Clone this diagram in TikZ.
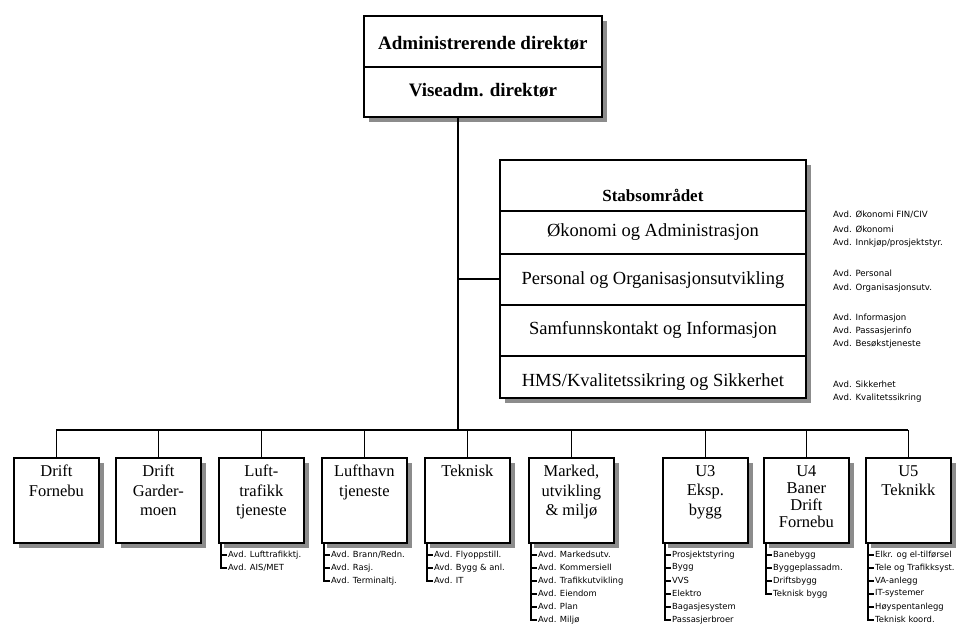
\documentclass[tikz,border=0pt]{standalone}
\usepackage{fontspec}
\setmainfont{Liberation Serif}
\newfontfamily\listfont{DejaVu Sans}
\usetikzlibrary{calc}

\tikzset{
  shadowed/.style={preaction={fill=black!45, draw=none,
      transform canvas={xshift=5.5pt, yshift=-5.5pt}}},
  frame/.style={draw, line width=1.8pt, fill=white, shadowed,
      anchor=north west, inner sep=0pt},
  unit/.style={frame, minimum width=85pt, minimum height=85pt},
  unitname/.style={anchor=north, align=center, inner sep=0pt,
      font=\fontsize{16.5}{19.5}\selectfont},
  headtext/.style={inner sep=0pt, font=\bfseries\fontsize{19}{22}\selectfont},
  rowtext/.style={inner sep=0pt, font=\fontsize{18.5}{22}\selectfont},
  divider/.style={line width=1.4pt},
  wire/.style={line width=1.6pt},
  listwire/.style={line width=1.4pt},
  item/.style={anchor=west, inner sep=1pt,
      font=\listfont\fontsize{8.4}{9}\selectfont},
  staffitem/.style={anchor=west, inner sep=0pt,
      font=\listfont\fontsize{8.6}{9}\selectfont},
}

\begin{document}
\begin{tikzpicture}[x=1pt, y=-1pt]
\useasboundingbox (0,0) rectangle (969,627);

% --- reference point for the horizontal bus
\coordinate (busy) at (0,430);

% --- executive box
\node[frame, minimum width=238pt, minimum height=101pt] (top) at (363,15) {};
\draw[divider] ($(top.north west)+(0,52)$) -- ($(top.north east)+(0,52)$);
\node[headtext] (adm) at ($(top.north)+(0,28)$) {Administrerende direktør};
\node[headtext] (vise) at ($(top.north)+(0,75)$) {Viseadm. direktør};

% --- staff area box
\node[frame, minimum width=306pt, minimum height=238pt] (stab) at (499,159) {};
\foreach \d in {52,95,146,197}
  \draw[divider] ($(stab.north west)+(0,\d)$) -- ($(stab.north east)+(0,\d)$);
\node[headtext, font=\bfseries\fontsize{17}{20}\selectfont] (stabhead)
  at ($(stab.north)+(0,36)$) {Stabsområdet};
\node[rowtext] (row1) at ($(stab.north)+(0,73)$) {Økonomi og Administrasjon};
\node[rowtext] (row2) at ($(stab.north)+(0,121)$) {Personal og Organisasjonsutvikling};
\node[rowtext] (row3) at ($(stab.north)+(0,171)$) {Samfunnskontakt og Informasjon};
\node[rowtext] (row4) at ($(stab.north)+(0,223)$) {HMS/Kvalitetssikring og Sikkerhet};

% --- departments of the staff area
\node[staffitem] (s1) at (833,215) {Avd. Økonomi FIN/CIV};
\node[staffitem] (s2) at (833,229) {Avd. Økonomi};
\node[staffitem] (s3) at (833,243) {Avd. Innkjøp/prosjektstyr.};
\node[staffitem] (s4) at (833,273) {Avd. Personal};
\node[staffitem] (s5) at (833,288) {Avd. Organisasjonsutv.};
\node[staffitem] (s6) at (833,318) {Avd. Informasjon};
\node[staffitem] (s7) at (833,331) {Avd. Passasjerinfo};
\node[staffitem] (s8) at (833,344) {Avd. Besøkstjeneste};
\node[staffitem] (s9) at (833,384) {Avd. Sikkerhet};
\node[staffitem] (s10) at (833,398) {Avd. Kvalitetssikring};

% --- line units
\foreach \i/\x in {1/13,2/115,3/218,4/321,5/424,6/528,7/662,8/763,9/865}
  \node[unit] (c\i) at (\x,457) {};

% --- trunk, bus and stubs
\coordinate (t0) at ($(top.south)+(-25,0)$);
\draw[wire] (t0) -- (t0 |- busy);
\draw[wire] (t0 |- stab.west) -- (stab.west);
\draw[wire] (c1.north |- busy) -- (c9.north |- busy);
\foreach \i in {1,...,9}
  \draw[wire] (c\i.north |- busy) -- (c\i.north);

% --- unit names
\node[unitname] (n1) at ($(c1.north)+(0,8)$) {Drift\\Fornebu};
\node[unitname] (n2) at ($(c2.north)+(0,8)$) {Drift\\Garder-\\moen};
\node[unitname] (n3) at ($(c3.north)+(0,8)$) {Luft-\\trafikk\\tjeneste};
\node[unitname] (n4) at ($(c4.north)+(0,8)$) {Lufthavn\\tjeneste};
\node[unitname] (n5) at ($(c5.north)+(0,8)$) {Teknisk};
\node[unitname] (n6) at ($(c6.north)+(0,8)$) {Marked,\\utvikling\\\& miljø};
\node[unitname] (n7) at ($(c7.north)+(0,8)$) {U3\\Eksp.\\bygg};
\node[unitname, font=\fontsize{16.5}{17}\selectfont] (n8)
  at ($(c8.north)+(0,8)$) {U4\\Baner\\Drift\\Fornebu};
\node[unitname] (n9) at ($(c9.north)+(0,8)$) {U5\\Teknikk};

% --- department lists below the units
\foreach \t [count=\k] in {Avd. Lufttrafikktj., Avd. AIS/MET} {
  \node[item] (c3i\k) at ($(c3.south west)+(9,11+13*\k-13)$) {\t};
  \draw[listwire] ([xshift=3pt]c3.south west) |- (c3i\k.west);
}
\foreach \t [count=\k] in {Avd. Brann/Redn., Avd. Rasj., Avd. Terminaltj.} {
  \node[item] (c4i\k) at ($(c4.south west)+(9,11+13*\k-13)$) {\t};
  \draw[listwire] ([xshift=3pt]c4.south west) |- (c4i\k.west);
}
\foreach \t [count=\k] in {Avd. Flyoppstill., Avd. Bygg \& anl., Avd. IT} {
  \node[item] (c5i\k) at ($(c5.south west)+(9,11+13*\k-13)$) {\t};
  \draw[listwire] ([xshift=3pt]c5.south west) |- (c5i\k.west);
}
\foreach \t [count=\k] in {Avd. Markedsutv., Avd. Kommersiell, Avd. Trafikkutvikling,
    Avd. Eiendom, Avd. Plan, Avd. Miljø} {
  \node[item] (c6i\k) at ($(c6.south west)+(9,11+13*\k-13)$) {\t};
  \draw[listwire] ([xshift=3pt]c6.south west) |- (c6i\k.west);
}
\foreach \t [count=\k] in {Prosjektstyring, Bygg, VVS, Elektro, Bagasjesystem,
    Passasjerbroer} {
  \node[item] (c7i\k) at ($(c7.south west)+(9,11+13*\k-13)$) {\t};
  \draw[listwire] ([xshift=3pt]c7.south west) |- (c7i\k.west);
}
\foreach \t [count=\k] in {Banebygg, Byggeplassadm., Driftsbygg, Teknisk bygg} {
  \node[item] (c8i\k) at ($(c8.south west)+(9,11+13*\k-13)$) {\t};
  \draw[listwire] ([xshift=3pt]c8.south west) |- (c8i\k.west);
}
\foreach \t [count=\k] in {Elkr. og el-tilførsel, Tele og Trafikksyst., VA-anlegg,
    IT-systemer, Høyspentanlegg, Teknisk koord.} {
  \node[item] (c9i\k) at ($(c9.south west)+(9,11+13*\k-13)$) {\t};
  \draw[listwire] ([xshift=3pt]c9.south west) |- (c9i\k.west);
}
\end{tikzpicture}
\end{document}
